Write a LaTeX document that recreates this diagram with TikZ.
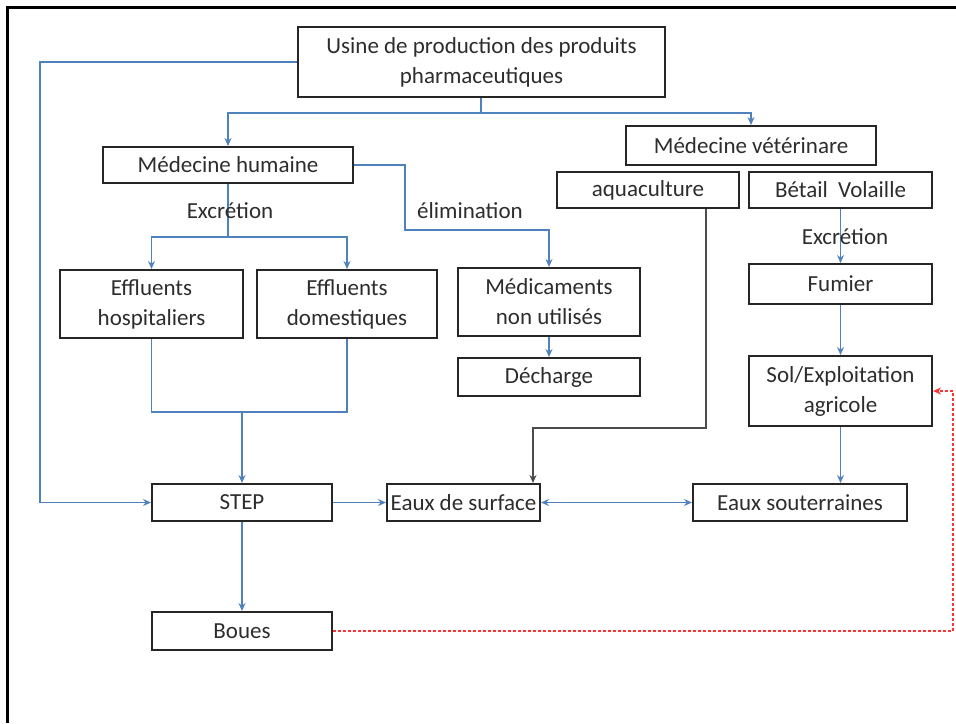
\documentclass[tikz,border=0pt]{standalone}
\usepackage{fontspec}
\setmainfont{Carlito}
\usetikzlibrary{calc}
\usetikzlibrary{arrows.meta}

\definecolor{lienbleu}{RGB}{79,129,189}
\definecolor{texte}{RGB}{45,45,45}

\tikzset{
  boite/.style={draw=black!85, line width=1pt, text=texte, align=center,
    inner sep=1pt, font=\fontsize{11.5}{15}\selectfont},
  lien/.style={lienbleu, line width=.7pt, -{Stealth[length=4pt,width=3.5pt]}},
  trait/.style={lienbleu, line width=.6pt},
  etiq/.style={text=texte, font=\fontsize{11.5}{15}\selectfont}
}

\begin{document}
\begin{tikzpicture}[x=.5pt,y=-.5pt]
\useasboundingbox (0,0) rectangle (956,723);
\draw[line width=1.5pt] (7,723) -- (7,7) -- (956,7);

\node[boite, minimum width=183.5pt, minimum height=35pt] (usine) at (481.5,62) {Usine de production des produits\\pharmaceutiques};
\node[boite, minimum width=125pt, minimum height=18pt] (medh) at (228,165) {Médecine humaine};
\node[boite, minimum width=125pt, minimum height=19.5pt] (medv) at (751,145.5) {Médecine vétérinare};
\node[boite, minimum width=91pt, minimum height=18pt] (aqua) at (648,190) {aquaculture};
\node[boite, minimum width=91.5pt, minimum height=18pt] (betail) at (840.5,190) {Bétail\ \ Volaille};
\node[boite, minimum width=91.5pt, minimum height=34pt] (effh) at (151.5,304) {Effluents\\hospitaliers};
\node[boite, minimum width=90pt, minimum height=34pt] (effd) at (347,304) {Effluents\\domestiques};
\node[boite, minimum width=91pt, minimum height=34pt] (medic) at (549,302) {Médicaments\\non utilisés};
\node[boite, minimum width=91pt, minimum height=19pt] (decharge) at (549,377) {Décharge};
\node[boite, minimum width=91.5pt, minimum height=20pt] (fumier) at (840.5,284) {Fumier};
\node[boite, minimum width=91.5pt, minimum height=35pt] (sol) at (840.5,391) {Sol/Exploitation\\agricole};
\node[boite, minimum width=90pt, minimum height=18.5pt] (step) at (242,502.5) {STEP};
\node[boite, minimum width=76.5pt, minimum height=18.5pt] (surface) at (463.5,502.5) {Eaux de surface};
\node[boite, minimum width=107pt, minimum height=18.5pt] (sout) at (800,502.5) {Eaux souterraines};
\node[boite, minimum width=90pt, minimum height=19pt] (boues) at (242,631) {Boues};

\coordinate (usinebas) at (481,113);
\coordinate (usinegauche) at (40,62);
\coordinate (excr) at (228,237);
\coordinate (elim) at (405,230);
\coordinate (aqbas) at (706,428);
\coordinate (sfhaut) at (533,428);
\coordinate (jonction) at (242,412);
\coordinate (rouge) at (953,391);

\draw[lien] (usine.west |- usinegauche) -- (usinegauche) |- (step.west);
\draw[trait] (usine.south -| usinebas) -- (usinebas);
\draw[lien] (usinebas) -| (medh.north);
\draw[lien] (usinebas) -| (medv.north);

\draw[trait] (medh.south) -- (excr);
\draw[lien] (excr) -| (effh.north);
\draw[lien] (excr) -| (effd.north);
\node[etiq] (lexcr) at (230,211) {Excrétion};

\draw[lien] (medh.east) -| (elim) -| (medic.north);
\node[etiq] (lelim) at (470,211) {élimination};
\draw[lien] (medic.south) -- (decharge.north);

\draw[black!70, line width=.6pt, -{Stealth[length=4pt,width=3.5pt]}] (aqua.south -| aqbas) -- (aqbas) -- (sfhaut) -- (sfhaut |- surface.north);

\draw[lien] (betail.south) -- (fumier.north);
\node[etiq] (lexcr2) at (845,237) {Excrétion};
\draw[lien] (fumier.south) -- (sol.north);
\draw[lien] (sol.south) -- (sol.south |- sout.north);

\draw[trait] (effh.south) -- (effh.south |- jonction) -- (effd.south |- jonction) -- (effd.south);
\draw[lien, line width=1.2pt] (jonction) -- (step.north);

\draw[lien] (step.east) -- (surface.west);
\draw[lien, {Stealth[length=4pt,width=3.5pt]}-{Stealth[length=4pt,width=3.5pt]}] (surface.east) -- (sout.west);
\draw[lien] (step.south) -- (boues.north);

\draw[red!80, line width=1pt, dash pattern=on 1.5pt off 1pt, -{Stealth[length=4pt,width=3.5pt]}] (boues.east) -| (rouge) -- (sol.east);
\end{tikzpicture}
\end{document}
